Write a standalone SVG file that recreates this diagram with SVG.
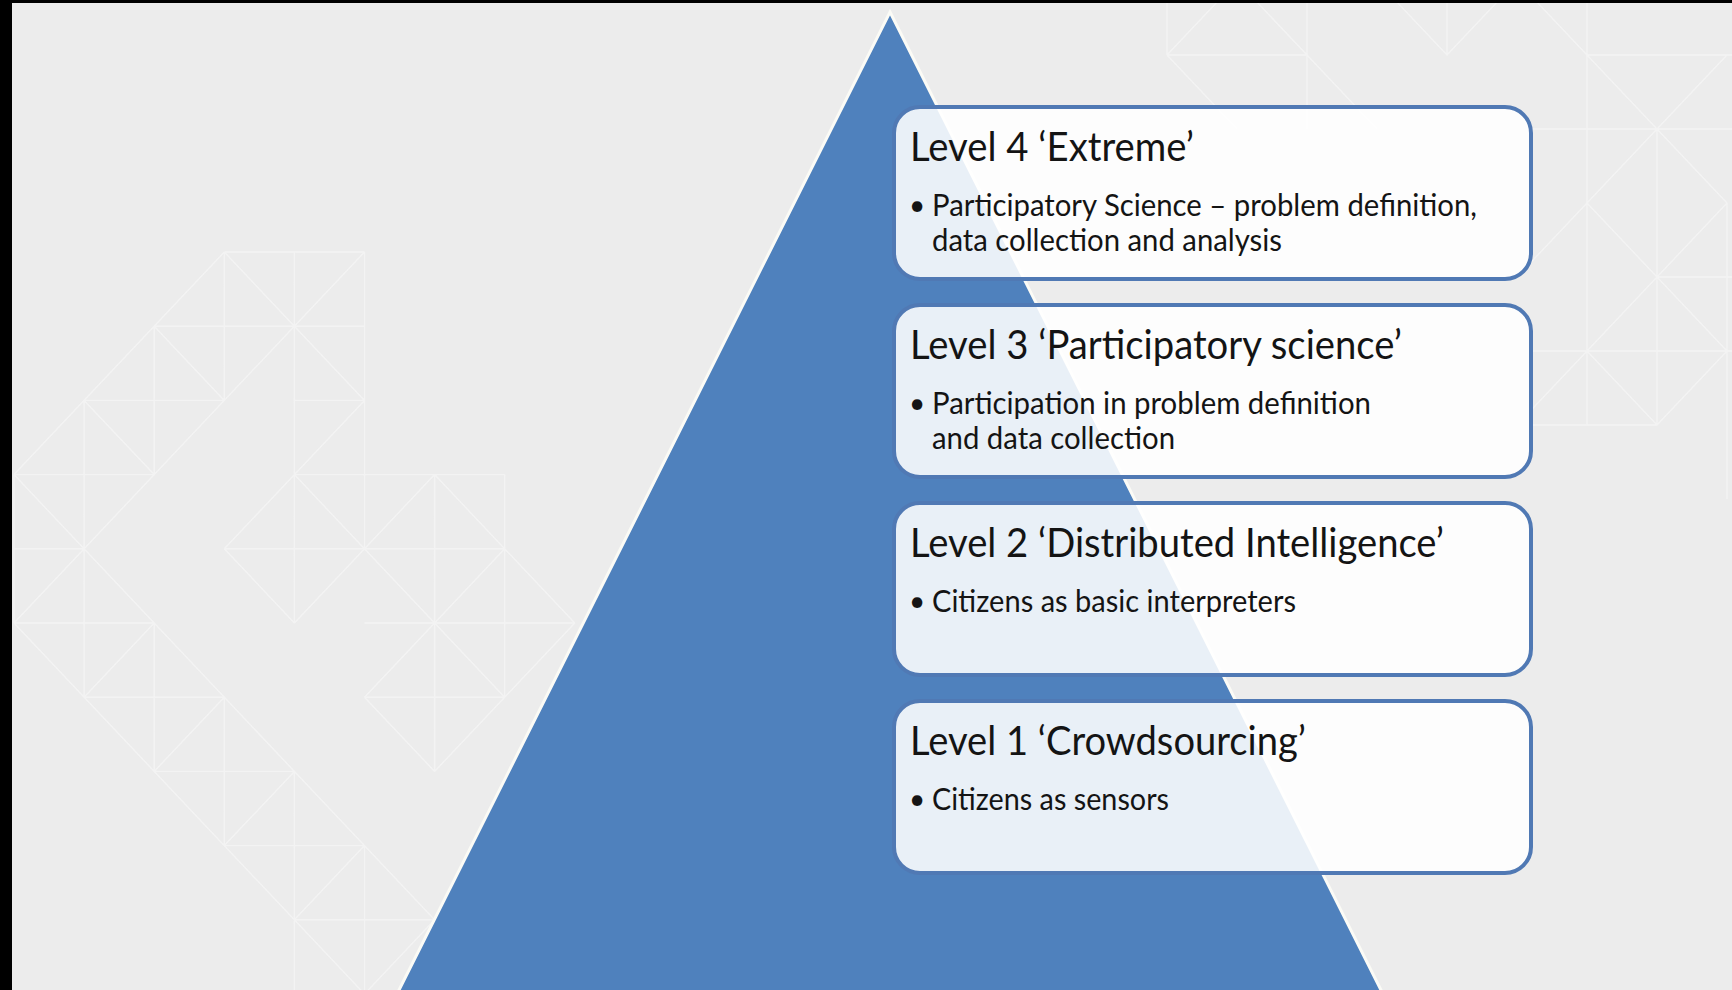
<svg xmlns="http://www.w3.org/2000/svg" width="1732" height="990" viewBox="0 0 1732 990">
  <style>
    .bgl { fill: none; stroke: #f6f6f6; stroke-opacity: 0.7; stroke-width: 1.4; vector-effect: non-scaling-stroke; }
    .box { fill: #ffffff; fill-opacity: 0.88; stroke: #5079b4; stroke-width: 4; }
    .title { font-family: Lato, "Liberation Sans", sans-serif; font-size: 40px; fill: #141414; }
    .body { font-family: Lato, "Liberation Sans", sans-serif; font-size: 31px; fill: #141414; }
    .bullet { font-family: Lato, "Liberation Sans", sans-serif; font-size: 28px; fill: #141414; }
  </style>
  <defs>
    <rect id="boxshape" x="894" y="0" width="637" height="172" rx="26" ry="26"/>
  </defs>

  <!-- background -->
  <rect x="0" y="0" width="1732" height="990" fill="#ececec"/>

  <!-- faint background pattern (left) -->
  <g id="pattern-left" transform="translate(14,252) scale(70.1,74.2)">
    <path class="bgl" d="M3,0H5 M2,1H5 M1,2H3 M4,2H5 M0,3H2 M4,3H7 M0,4H1 M3,4H7 M0,5H2 M5,5H8 M1,6H3 M5,6H7 M2,7H4 M3,8H5 M4,9H6 M5,10H7
      M0,3V5 M1,2V6 M2,1V3 M2,5V7 M3,0V2 M3,6V8 M4,0V5 M4,7V10 M5,0V4 M5,8V10 M6,3V7 M7,3V6
      M3,0L0,3 M3,0L5,2 M5,0L0,5 M2,1L3,2 M1,2L2,3 M0,3L7,10 M5,2L3,4 M4,3L7,6 M3,4L4,5 M4,5L6,3 M6,3L8,5 M7,4L5,6 M0,5L5,10 M2,5L1,6 M3,6L2,7 M4,7L3,8 M5,8L4,9 M6,9L5,10 M5,6L6,7 M6,7L7,6 M7,6L8,5"/>
  </g>

  <!-- faint background pattern (right) -->
  <g id="pattern-right" transform="translate(1167,55) scale(70,74)">
    <path class="bgl" d="M0,-1V0 M0,0H2 M0,0L1,-1 M0,0L1,1 M2,0L1,-1 M2,0L3,1 M2,-1V1 M3,-1L4,0L5,-1 M4,-1V0
      M5,-1L8,2 M6,-1V5 M6,0H8.5 M7,1V5 M5.2,1H8.5 M7,3H8.5 M5.2,4H8.5 M5.2,5H7 M8,2V6
      M8,0L5.2,2.8 M6,2L8,4 M8,2L5.2,4.8 M6,4L7,5L8,4"/>
  </g>

  <!-- pyramid -->
  <g id="pyramid">
    <polygon points="890,12 1392,1012 388,1012" fill="#4f81bd" stroke="#fbfbf6" stroke-width="3" stroke-linejoin="miter"/>
  </g>

  <!-- Level 4 -->
  <g id="level4" transform="translate(0,107)">
    <use href="#boxshape" class="box"/>
    <text class="title" x="910" y="54" textLength="284" lengthAdjust="spacingAndGlyphs">Level 4 ‘Extreme’</text>
    <text class="bullet" x="909" y="108">•</text>
    <text class="body" x="932" y="109" textLength="545" lengthAdjust="spacingAndGlyphs">Participatory Science – problem definition,</text>
    <text class="body" x="932" y="144" textLength="350" lengthAdjust="spacingAndGlyphs">data collection and analysis</text>
  </g>

  <!-- Level 3 -->
  <g id="level3" transform="translate(0,305)">
    <use href="#boxshape" class="box"/>
    <text class="title" x="910" y="54" textLength="492" lengthAdjust="spacingAndGlyphs">Level 3 ‘Participatory science’</text>
    <text class="bullet" x="909" y="108">•</text>
    <text class="body" x="932" y="109" textLength="439" lengthAdjust="spacingAndGlyphs">Participation in problem definition</text>
    <text class="body" x="932" y="144" textLength="243" lengthAdjust="spacingAndGlyphs">and data collection</text>
  </g>

  <!-- Level 2 -->
  <g id="level2" transform="translate(0,503)">
    <use href="#boxshape" class="box"/>
    <text class="title" x="910" y="54" textLength="534" lengthAdjust="spacingAndGlyphs">Level 2 ‘Distributed Intelligence’</text>
    <text class="bullet" x="909" y="108">•</text>
    <text class="body" x="932" y="109" textLength="364" lengthAdjust="spacingAndGlyphs">Citizens as basic interpreters</text>
  </g>

  <!-- Level 1 -->
  <g id="level1" transform="translate(0,701)">
    <use href="#boxshape" class="box"/>
    <text class="title" x="910" y="54" textLength="396" lengthAdjust="spacingAndGlyphs">Level 1 ‘Crowdsourcing’</text>
    <text class="bullet" x="909" y="108">•</text>
    <text class="body" x="932" y="109" textLength="237" lengthAdjust="spacingAndGlyphs">Citizens as sensors</text>
  </g>

  <!-- dark frame edges -->
  <rect x="0" y="0" width="1732" height="3" fill="#000"/>
  <rect x="0" y="0" width="12" height="990" fill="#000"/>
</svg>
